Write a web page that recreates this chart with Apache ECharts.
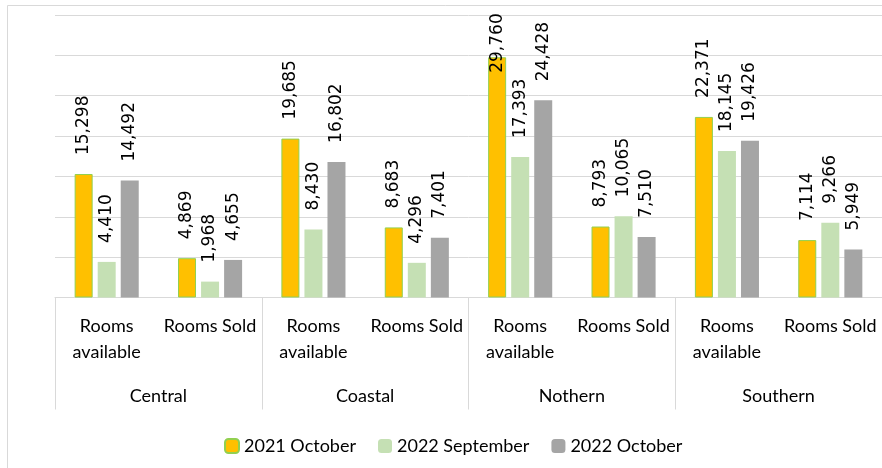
<!DOCTYPE html>
<html>
<head>
<meta charset="utf-8">
<script src="https://cdn.jsdelivr.net/npm/echarts@6/dist/echarts.min.js"></script>
<style>
  html, body { margin: 0; padding: 0; background: #fff; }
  #chart { width: 882px; height: 468px; }
</style>
</head>
<body>
<div id="chart"></div>
<script>
// sub categories (two per region) and regions
const subCats = ['Rooms\navailable', 'Rooms Sold', 'Rooms\navailable', 'Rooms Sold',
  'Rooms\navailable', 'Rooms Sold', 'Rooms\navailable', 'Rooms Sold']
const regions = ['Central', 'Coastal', 'Nothern', 'Southern']

const oct2021 = [15298, 4869, 19685, 8683, 29760, 8793, 22371, 7114]
const sep2022 = [4410, 1968, 8430, 4296, 17393, 10065, 18145, 9266]
const oct2022 = [14492, 4655, 16802, 7401, 24428, 7510, 19426, 5949]

const seriesNames = ['2021 October', '2022 September', '2022 October']
const colors = ['#FFC000', '#C5E0B4', '#A5A5A5']

const chart = echarts.init(document.getElementById('chart'))

// label that would run off the top gets pushed down onto the bar (like excel)
const withLabels = vals => vals.map(v => v > 27000
  ? { value: v, label: { align: 'right', distance: 44 } }
  : v)

const barSeries = [oct2021, sep2022, oct2022].map((vals, i) => ({
  name: seriesNames[i],
  type: 'bar',
  data: withLabels(vals),
  barWidth: 18,
  barGap: '28%',
  itemStyle: {
    color: colors[i],
    borderColor: i === 0 ? '#92D050' : colors[i],
    borderWidth: i === 0 ? 1 : 0
  },
  label: {
    show: true,
    position: 'top',
    rotate: 90,
    align: 'left',
    verticalAlign: 'middle',
    distance: 19,
    fontFamily: 'DejaVu Sans',
    fontSize: 17,
    color: '#000',
    formatter: p => p.value.toLocaleString('en-US')
  }
}))

chart.setOption({
  backgroundColor: '#fff',
  animation: false,
  graphic: [{
    type: 'rect',
    shape: { x: 7.5, y: 5.5, width: 900, height: 500 },
    style: { fill: 'none', stroke: '#d9d9d9', lineWidth: 1 }
  }],
  legend: {
    data: seriesNames,
    left: 219,
    top: 432,
    itemWidth: 14,
    itemHeight: 14,
    itemGap: 22,
    textStyle: { fontFamily: 'Lato', fontSize: 18, color: '#000' }
  },
  grid: { left: 55, top: 15, width: 830, height: 282.5 },
  xAxis: [
    {
      type: 'category',
      data: subCats,
      axisLine: { lineStyle: { color: '#d9d9d9' } },
      axisTick: { show: false },
      axisLabel: {
        interval: 0,
        margin: 16,
        lineHeight: 26,
        fontFamily: 'Lato',
        fontSize: 18,
        color: '#000'
      }
    },
    {
      type: 'category',
      data: regions,
      position: 'bottom',
      axisLine: { show: false },
      axisTick: { show: true, interval: 0, length: 112, lineStyle: { color: '#d9d9d9' } },
      axisLabel: {
        interval: 0,
        margin: 86,
        lineHeight: 26,
        fontFamily: 'Lato',
        fontSize: 18,
        color: '#000'
      }
    }
  ],
  yAxis: {
    type: 'value',
    min: 0,
    max: 35000,
    interval: 5000,
    axisLabel: { show: false },
    axisLine: { show: false },
    axisTick: { show: false },
    splitLine: { lineStyle: { color: '#d9d9d9', width: 1 } }
  },
  series: barSeries
})
</script>
</body>
</html>
